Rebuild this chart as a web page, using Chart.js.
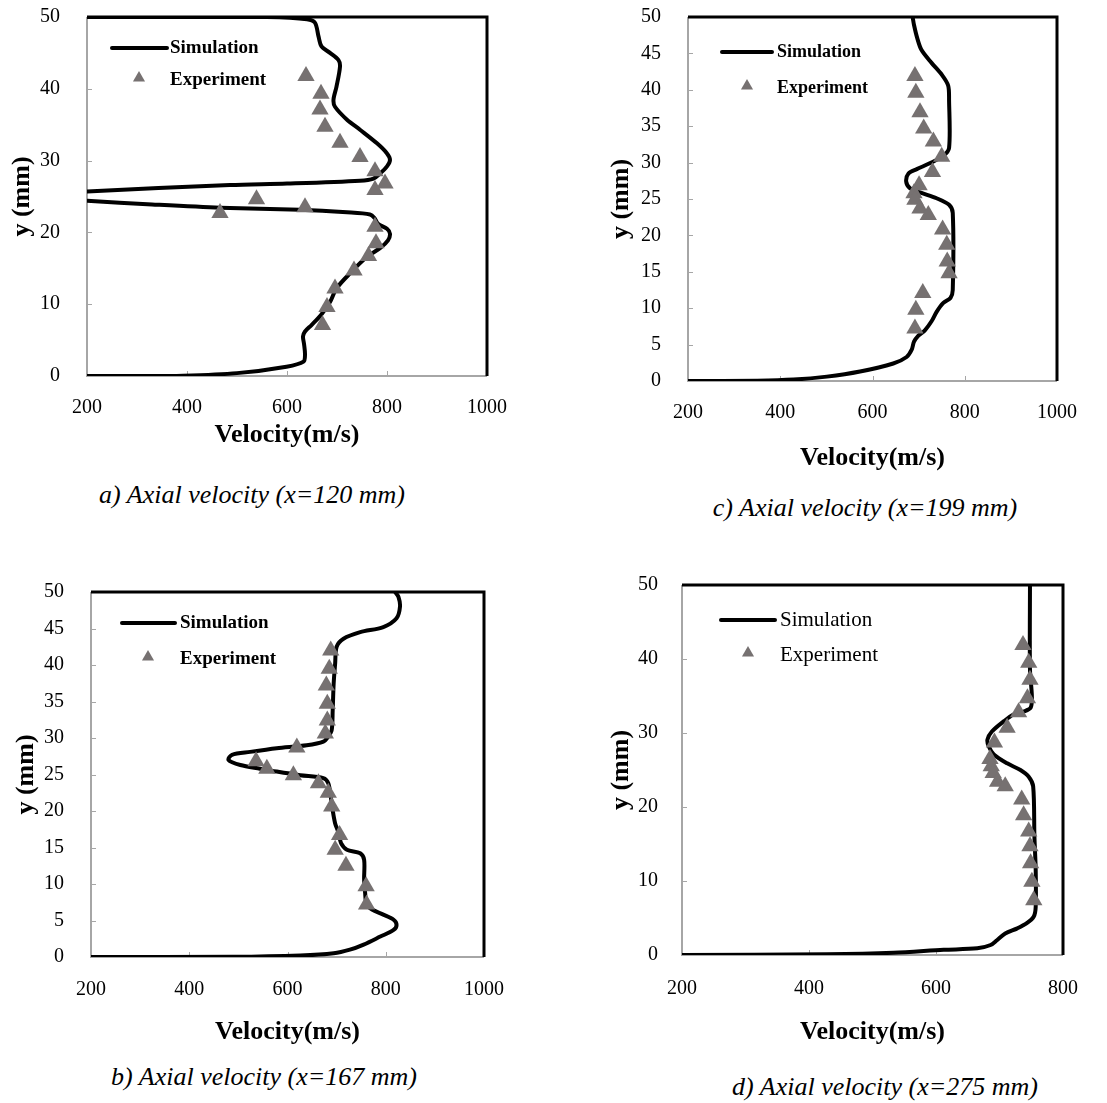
<!DOCTYPE html>
<html>
<head>
<meta charset="utf-8">
<script src="https://cdn.jsdelivr.net/npm/chart.js@4.4.1/dist/chart.umd.min.js"></script>
<style>
  body { margin: 0; background: #fff; width: 1107px; height: 1103px; position: relative; overflow: hidden; }
  canvas { position: absolute; }
  .caption {
    position: absolute; white-space: nowrap; color: #000;
    font: italic 26px 'Liberation Serif', 'Times New Roman', serif;
    line-height: 30px; transform: translateX(-50%);
  }
</style>
</head>
<body>
<canvas id="chartA" width="520" height="460" style="left:0px;top:0px"></canvas>
<canvas id="chartC" width="540" height="480" style="left:560px;top:0px"></canvas>
<canvas id="chartB" width="520" height="500" style="left:0px;top:560px"></canvas>
<canvas id="chartD" width="540" height="500" style="left:560px;top:560px"></canvas>

<div class="caption" style="left:252px;top:480px">a) Axial velocity (x=120 mm)</div>
<div class="caption" style="left:865px;top:493px">c) Axial velocity (x=199 mm)</div>
<div class="caption" style="left:264px;top:1062px">b) Axial velocity (x=167 mm)</div>
<div class="caption" style="left:885px;top:1072px">d) Axial velocity (x=275 mm)</div>

<script>
// ---- values: velocity (m/s) vs y (mm) ----

// a) x = 120 mm
const simA_vel = [200, 300, 392, 500, 599, 633, 636, 634, 632, 636, 649, 668, 686, 699, 726, 760, 786, 802, 806, 800, 782, 775, 766, 720, 626, 466, 330, 200, 60, 200, 486, 600, 746, 773, 786, 800, 806, 800, 780, 746, 720, 696, 693, 699, 706, 703, 686, 669, 663, 656, 640, 560, 400, 200];
const simA_y   = [0, 0, 0.05, 0.4, 1.3, 2.0, 3.0, 4.5, 5.5, 6.2, 7.1, 8.5, 10.3, 12.2, 14.3, 16.6, 17.8, 18.9, 19.8, 20.5, 21.2, 22.0, 22.5, 22.8, 23.15, 23.45, 23.9, 24.4, 25.05, 25.7, 26.6, 26.8, 27.2, 27.5, 28.2, 29.2, 30.1, 31.0, 32.4, 34.3, 35.7, 37.5, 38.5, 40.3, 43.1, 44.0, 45.0, 45.9, 47.3, 49.2, 49.7, 50, 50, 50];
const expA_vel = [638, 668, 666, 676, 706, 746, 776, 796, 776, 539, 636, 466, 776, 778, 763, 734, 696, 680, 671];
const expA_y   = [41.8, 39.3, 37.1, 34.7, 32.5, 30.5, 28.5, 26.8, 25.9, 24.6, 23.5, 22.7, 20.8, 18.5, 16.7, 14.7, 12.2, 9.6, 7.1];

// c) x = 199 mm
const simC_vel = [200, 350, 429, 501, 573, 645, 674, 685, 690, 699, 714, 728, 739, 753, 769, 774, 774, 766, 739, 703, 681, 673, 678, 696, 724, 753, 766, 766, 764, 750, 728, 706, 697, 690, 687];
const simC_y   = [0, 0.05, 0.2, 0.6, 1.3, 2.4, 3.3, 4.3, 5.4, 6.2, 7.0, 8.2, 9.5, 10.7, 11.4, 12.5, 23.1, 24.2, 25.1, 25.9, 26.5, 27.4, 28.5, 29.1, 29.9, 30.9, 32.0, 38.6, 40.6, 42.1, 43.7, 45.5, 47.1, 48.9, 50];
const expC_vel = [692, 694, 703, 711, 732, 750, 730, 701, 690, 692, 703, 721, 752, 761, 762, 766, 709, 694, 692];
const expC_y   = [41.9, 39.6, 36.9, 34.7, 32.9, 30.8, 28.7, 26.9, 25.8, 24.9, 23.7, 22.8, 20.8, 18.7, 16.4, 14.8, 12.1, 9.8, 7.2];

// b) x = 167 mm
const simB_vel = [200, 490, 626, 694, 727, 755, 789, 816, 822, 816, 795, 772, 761, 758, 756, 756, 748, 721, 709, 704, 697, 692, 688, 683, 673, 626, 578, 544, 504, 480, 487, 524, 578, 639, 673, 683, 690, 692, 694, 697, 700, 714, 748, 795, 822, 829, 826, 819];
const simB_y   = [0, 0.02, 0.2, 0.5, 1.0, 1.7, 2.8, 3.7, 4.4, 5.1, 5.8, 6.5, 7.2, 8.8, 10.6, 13.3, 14.2, 14.7, 15.6, 17.0, 18.3, 20.1, 22.0, 23.8, 24.5, 24.9, 25.4, 25.8, 26.3, 27.0, 27.7, 28.1, 28.6, 29.0, 29.5, 30.2, 31.1, 33.8, 37.5, 40.2, 42.5, 43.6, 44.5, 45.2, 46.4, 48.0, 49.3, 50];
const expB_vel = [688, 685, 679, 681, 681, 677, 619, 536, 558, 612, 663, 683, 690, 706, 697, 719, 760, 761];
const expB_y   = [42.0, 39.5, 37.2, 34.7, 32.4, 30.6, 28.7, 26.8, 25.8, 24.9, 23.8, 22.5, 20.6, 16.7, 14.7, 12.5, 9.7, 7.2];

// d) x = 275 mm
const simD_vel = [200, 428, 533, 612, 665, 686, 696, 709, 728, 743, 754, 757, 757, 755, 753, 746, 733, 712, 691, 683, 681, 688, 707, 722, 738, 749, 751, 748, 748];
const simD_y   = [0, 0.1, 0.3, 0.7, 0.9, 1.35, 2.0, 2.9, 3.6, 4.3, 5.2, 6.5, 11.5, 16.0, 22.8, 24.1, 25.0, 25.9, 27.1, 28.2, 29.1, 30.2, 31.6, 32.5, 32.9, 33.4, 34.9, 38.6, 50];
const expD_vel = [737, 746, 748, 744, 730, 712, 692, 685, 687, 690, 697, 709, 735, 738, 746, 748, 749, 751, 754];
const expD_y   = [41.9, 39.5, 37.2, 34.7, 32.8, 30.7, 28.7, 26.5, 25.5, 24.6, 23.4, 22.8, 21.0, 18.9, 16.7, 14.7, 12.4, 9.9, 7.4];

const seriesNames = ['Simulation', 'Experiment'];
const xTitle = 'Velocity(m/s)';
const yTitle = 'y (mm)';

// ---------------------------------------------------------------
const serif = "'Liberation Serif', 'Times New Roman', serif";

function pts(xs, ys) {
  return xs.map((x, i) => ({ x: x, y: ys[i] }));
}

// the layout pads edges for the end tick labels; we size everything by hand instead
function noEdgePadding(s) {
  s.paddingTop = 0; s.paddingBottom = 0; s.paddingLeft = 0; s.paddingRight = 0;
}

// plot frame: grey axes left/bottom with small inward ticks, black box top/right
const frame = {
  id: 'frame',
  beforeDatasetsDraw(chart) {
    const { ctx, chartArea: a, scales } = chart;
    ctx.save();
    ctx.strokeStyle = '#a6a6a6';
    ctx.lineWidth = 1;
    scales.x.ticks.forEach(t => {
      const px = Math.round(scales.x.getPixelForValue(t.value)) + 0.5;
      ctx.beginPath(); ctx.moveTo(px, a.bottom); ctx.lineTo(px, a.bottom - 5); ctx.stroke();
    });
    scales.y.ticks.forEach(t => {
      const py = Math.round(scales.y.getPixelForValue(t.value)) + 0.5;
      ctx.beginPath(); ctx.moveTo(a.left, py); ctx.lineTo(a.left + 5, py); ctx.stroke();
    });
    ctx.lineWidth = 2;
    ctx.beginPath();
    ctx.moveTo(a.left, a.top); ctx.lineTo(a.left, a.bottom); ctx.lineTo(a.right, a.bottom);
    ctx.stroke();
    ctx.strokeStyle = '#000';
    ctx.lineWidth = 3;
    ctx.beginPath();
    ctx.moveTo(a.left, a.top); ctx.lineTo(a.right, a.top); ctx.lineTo(a.right, a.bottom);
    ctx.stroke();
    ctx.restore();
  }
};

// legend drawn inside the plot area, upper left
const innerLegend = {
  id: 'innerLegend',
  afterDraw(chart, args, o) {
    const { ctx, chartArea: a } = chart;
    const sim = chart.data.datasets[0], exp = chart.data.datasets[1];
    ctx.save();
    ctx.strokeStyle = sim.borderColor;
    ctx.lineWidth = sim.borderWidth;
    ctx.lineCap = 'round';
    ctx.beginPath();
    ctx.moveTo(a.left + o.x1, a.top + o.y1);
    ctx.lineTo(a.left + o.x2, a.top + o.y1);
    ctx.stroke();
    ctx.fillStyle = exp.backgroundColor;
    Chart.helpers.drawPoint(ctx, { pointStyle: 'triangle', radius: 7, rotation: 0, borderWidth: 0 },
      a.left + o.mx, a.top + o.y2);
    ctx.fillStyle = '#000';
    ctx.font = o.font;
    ctx.textBaseline = 'middle';
    ctx.fillText(sim.label, a.left + o.tx, a.top + o.y1);
    ctx.fillText(exp.label, a.left + o.tx, a.top + o.y2 + 2);
    ctx.restore();
  }
};

function makeChart(id, p) {
  new Chart(document.getElementById(id), {
    type: 'scatter',
    data: {
      datasets: [
        {
          label: seriesNames[0],
          data: pts(p.simVel, p.simY),
          showLine: true,
          borderColor: '#000',
          borderWidth: 4,
          pointRadius: 0,
          tension: 0.3,
          order: 2
        },
        {
          label: seriesNames[1],
          data: pts(p.expVel, p.expY),
          pointStyle: 'triangle',
          pointRadius: 10,
          backgroundColor: '#767171',
          borderWidth: 0,
          order: 1
        }
      ]
    },
    options: {
      responsive: false,
      animation: false,
      devicePixelRatio: 1,
      events: [],
      layout: { autoPadding: false, padding: p.pad },
      scales: {
        x: {
          type: 'linear', min: 200, max: p.xMax,
          afterFit: s => { s.height = p.xh; noEdgePadding(s); },
          grid: { display: false },
          border: { display: false },
          ticks: { stepSize: 200, padding: p.xTickPad, color: '#000', callback: v => String(v),
                   font: { family: serif, size: 20 } },
          title: { display: true, text: xTitle, color: '#000', padding: { top: 0, bottom: p.xTitlePad },
                   font: { family: serif, size: 26, weight: 'bold' } }
        },
        y: {
          type: 'linear', min: 0, max: 50,
          afterFit: s => { s.width = p.yw; noEdgePadding(s); },
          grid: { display: false },
          border: { display: false },
          ticks: { stepSize: p.yStep, padding: p.yTickPad, color: '#000', callback: v => String(v),
                   font: { family: serif, size: 20 } },
          title: { display: true, text: yTitle, color: '#000', padding: { top: p.yTitlePad, bottom: 0 },
                   font: { family: serif, size: 26, weight: 'bold' } }
        }
      },
      plugins: {
        legend: { display: false },
        tooltip: { enabled: false },
        innerLegend: p.legend
      }
    },
    plugins: [frame, innerLegend]
  });
}

makeChart('chartA', {
  simVel: simA_vel, simY: simA_y, expVel: expA_vel, expY: expA_y,
  xMax: 1000, yStep: 10,
  pad: { left: 0, top: 17, right: 33, bottom: 0 }, yw: 87, xh: 84,
  xTickPad: 12, xTitlePad: 9, yTickPad: 19, yTitlePad: 7,
  legend: { x1: 25, x2: 80, y1: 31, y2: 61, tx: 83, mx: 52, font: 'bold 19px ' + serif }
});

makeChart('chartC', {
  simVel: simC_vel, simY: simC_y, expVel: expC_vel, expY: expC_y,
  xMax: 1000, yStep: 5,
  pad: { left: 0, top: 17, right: 43, bottom: 0 }, yw: 128, xh: 99,
  xTickPad: 12, xTitlePad: 6, yTickPad: 19, yTitlePad: 46,
  legend: { x1: 34, x2: 84, y1: 35, y2: 69, tx: 89, mx: 59, font: 'bold 18px ' + serif }
});

makeChart('chartB', {
  simVel: simB_vel, simY: simB_y, expVel: expB_vel, expY: expB_y,
  xMax: 1000, yStep: 5,
  pad: { left: 0, top: 32, right: 36, bottom: 0 }, yw: 91, xh: 103,
  xTickPad: 13, xTitlePad: 12, yTickPad: 19, yTitlePad: 11,
  legend: { x1: 31, x2: 84, y1: 31, y2: 65, tx: 89, mx: 57, font: 'bold 19px ' + serif }
});

makeChart('chartD', {
  simVel: simD_vel, simY: simD_y, expVel: expD_vel, expY: expD_y,
  xMax: 800, yStep: 10,
  pad: { left: 0, top: 25, right: 37, bottom: 0 }, yw: 122, xh: 105,
  xTickPad: 14, xTitlePad: 12, yTickPad: 16, yTitlePad: 46,
  legend: { x1: 39, x2: 93, y1: 35, y2: 68, tx: 98, mx: 66, font: '21px ' + serif }
});
</script>
</body>
</html>
